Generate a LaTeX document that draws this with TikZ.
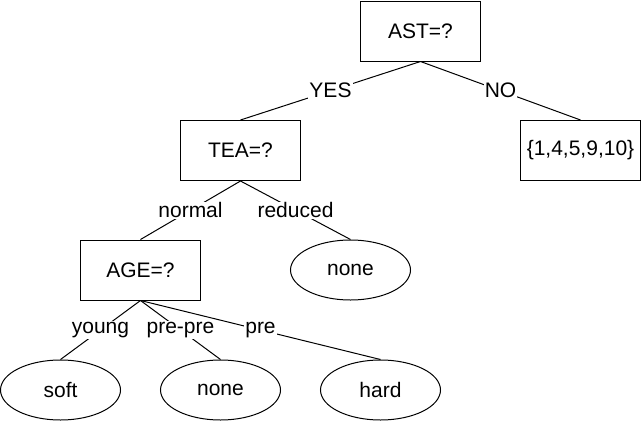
\documentclass[tikz,border=0pt]{standalone}
\usepackage{fontspec}
\setmainfont{Liberation Sans}
\usetikzlibrary{shapes.geometric}
\begin{document}
\begin{tikzpicture}[x=1pt,y=-1pt,
  box/.style={draw, line width=1pt, minimum width=120pt, minimum height=60pt, inner sep=0pt},
  leaf/.style={draw, ellipse, line width=1pt, minimum width=120pt, minimum height=60pt, inner sep=0pt},
  lbl/.style={fill=white, inner sep=1pt},
  edge/.style={line width=1pt},
  font=\fontsize{21}{24}\selectfont]
\useasboundingbox (0,0) rectangle (641,421);
\node[box] (ast) at (420.5,31) {AST=?};
\node[box] (set) at (580.5,150.5) {\{1,4,5,9,10\}};
\node[box] (tea) at (240.5,150.5) {TEA=?};
\node[box] (age) at (140.5,270) {AGE=?};
\node[leaf] (none1) at (350.5,270) {none};
\node[leaf] (soft) at (60.5,390) {soft};
\node[leaf] (none2) at (220.5,390) {none};
\node[leaf] (hard) at (380.5,390) {hard};
\draw[edge] (ast.south) -- node[lbl] {YES} (tea.north);
\draw[edge] (ast.south) -- node[lbl] {NO} (set.north);
\draw[edge] (tea.south) -- node[lbl] {normal} (age.north);
\draw[edge] (tea.south) -- node[lbl] {reduced} (none1.north);
\draw[edge] (age.south) -- node[lbl] {young} (soft.north);
\draw[edge] (age.south) -- node[lbl] {pre-pre} (none2.north);
\draw[edge] (age.south) -- node[lbl] {pre} (hard.north);
\end{tikzpicture}
\end{document}
